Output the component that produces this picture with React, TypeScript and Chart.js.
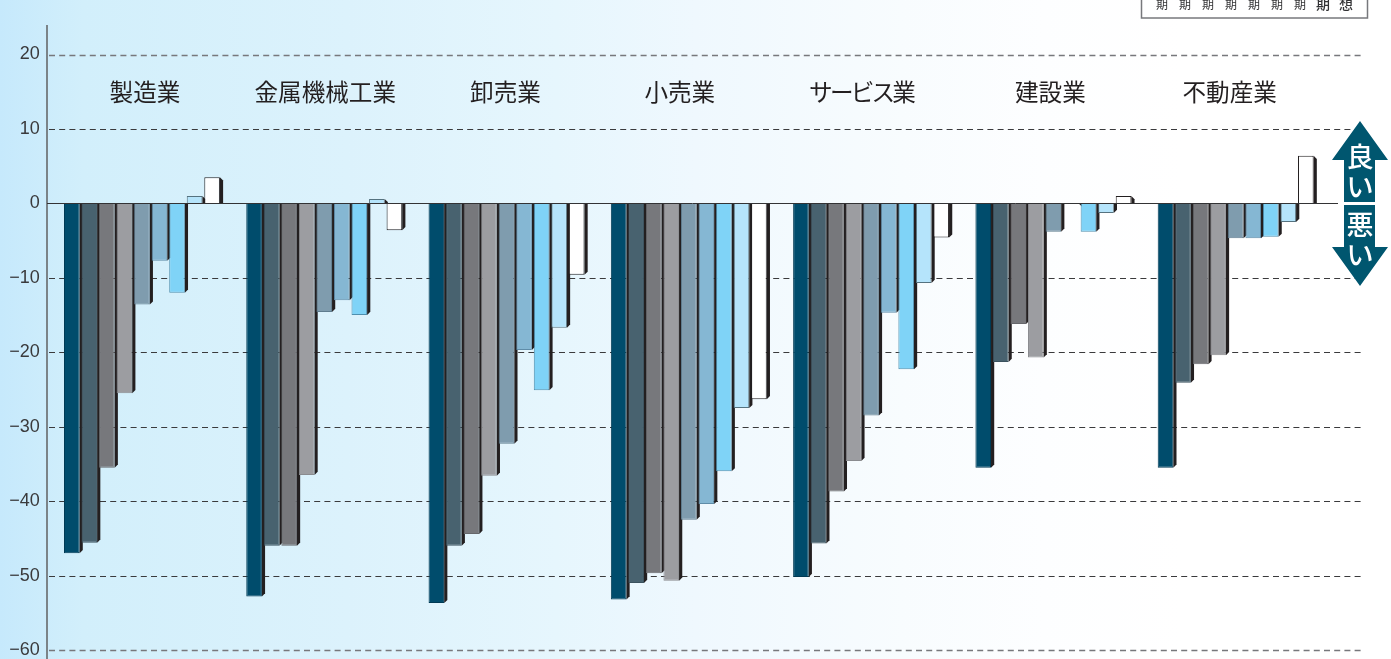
import React, { useEffect, useRef } from "react";
import { Chart, registerables } from "chart.js";

Chart.register(...registerables);

const industries = ["製造業", "金属機械工業", "卸売業", "小売業", "サービス業", "建設業", "不動産業"];

// One array per survey period, in industry order
const period1 = [-47, -52.8, -53.7, -53.2, -50.2, -35.5, -35.5];
const period2 = [-45.6, -46, -46, -51, -45.7, -21.3, -24.1];
const period3 = [-35.5, -46, -44.4, -49.7, -38.7, -16.2, -21.6];
const period4 = [-25.5, -36.5, -36.6, -50.7, -34.6, -20.7, -20.4];
const period5 = [-13.6, -14.6, -32.3, -42.5, -28.5, -3.8, -4.7];
const period6 = [-7.7, -13, -19.7, -40.4, -14.7, null, -4.7];
const period7 = [-12, -15, -25.1, -36, -22.3, -3.8, -4.5];
const period8 = [1, 0.6, -16.7, -27.5, -10.7, -1.3, -2.5];
const period9 = [3.5, -3.6, -9.6, -26.3, -4.6, 1, 6.4];

const periodTags = ["期", "期", "期", "期", "期", "期", "期", "期", "想"];
const seriesValues = [period1, period2, period3, period4, period5, period6, period7, period8, period9];

const fillColors = ["#004c6c", "#48626f", "#77787c", "#9c9da1", "#7f9cae", "#85b7d3", "#7fd3f7", "#b5e4fb", "#ffffff"];
const edgeColors = ["#003a54", "#3b525e", "#66676b", "#8a8b8f", "#5f7c8e", "#5f8ca8", "#4f8fae", "#55727f", "#231f20"];

// Horizontal correction of each industry heading relative to its bar group
const headingShift = [3, 1, -1, -9, -10, -3, -6];

const JP_FONT = '"Noto Sans CJK JP", "Noto Sans", sans-serif';
const AXIS_X = 47;
const GRID_END = 1362;
const ZERO_END = 1338;

const backdropPlugin = {
  id: "backdrop",
  beforeDatasetsDraw(chart: any) {
    const { ctx, scales } = chart;
    const y = scales.y;
    ctx.save();
    // Dashed reference lines
    for (const tick of y.ticks) {
      if (tick.value === 0) continue;
      const py = Math.round(y.getPixelForValue(tick.value)) + 0.5;
      const outer = tick.value === 20 || tick.value === -60;
      ctx.beginPath();
      ctx.setLineDash([6, 4.2]);
      ctx.lineWidth = outer ? 1.3 : 1;
      ctx.strokeStyle = outer ? "#77787c" : "#3a3a3c";
      ctx.moveTo(AXIS_X + 2, py);
      ctx.lineTo(GRID_END, py);
      ctx.stroke();
    }
    ctx.setLineDash([]);
    // Value axis rule
    ctx.beginPath();
    ctx.lineWidth = 1.5;
    ctx.strokeStyle = "#5f6062";
    ctx.moveTo(AXIS_X, 25);
    ctx.lineTo(AXIS_X, 659);
    ctx.stroke();

    // Side faces of the bars, chamfered at the free end
    ctx.fillStyle = "#231f20";
    chart.data.datasets.forEach((_: any, di: number) => {
      chart.getDatasetMeta(di).data.forEach((el: any) => {
        if (el.skip) return;
        const { x, y: tip, base, width } = el.getProps(["x", "y", "base", "width"], true);
        const right = x + width / 2;
        const depth = 3.2;
        const dir = tip > base ? -1 : 1;
        ctx.beginPath();
        ctx.moveTo(right, base);
        ctx.lineTo(right + depth, base);
        ctx.lineTo(right + depth, tip + dir * depth);
        ctx.lineTo(right, tip);
        ctx.closePath();
        ctx.fill();
      });
    });
    ctx.restore();
  },
  afterDatasetsDraw(chart: any) {
    const { ctx, scales } = chart;
    const zeroY = Math.round(scales.y.getPixelForValue(0)) + 0.5;
    ctx.save();
    ctx.beginPath();
    ctx.lineWidth = 1;
    ctx.strokeStyle = "#333335";
    ctx.moveTo(AXIS_X, zeroY);
    ctx.lineTo(ZERO_END, zeroY);
    ctx.stroke();

    // Industry headings; the katakana heading is set tighter
    ctx.fillStyle = "#231f20";
    ctx.font = `400 23.6px ${JP_FONT}`;
    ctx.textAlign = "center";
    ctx.textBaseline = "middle";
    industries.forEach((name, i) => {
      ctx.letterSpacing = name === "サービス業" ? "-2.8px" : "0px";
      ctx.fillText(name, scales.x.getPixelForValue(i) + headingShift[i], 92.5);
    });
    ctx.letterSpacing = "0px";

    // Period key, running off the top edge
    ctx.strokeStyle = "#77787c";
    ctx.lineWidth = 1.5;
    ctx.strokeRect(1141.5, -10, 226, 28);
    ctx.fillStyle = "#333335";
    periodTags.forEach((tag, i) => {
      const last = i >= 7;
      ctx.font = `${last ? 500 : 400} ${last ? 14 : 12}px ${JP_FONT}`;
      ctx.fillText(tag, 1162 + i * 23, 4);
    });

    // Good / bad direction arrows
    ctx.fillStyle = "#00566f";
    ctx.beginPath();
    [[1360, 121], [1388, 160], [1375, 160], [1375, 202], [1344, 202], [1344, 160], [1332, 160]].forEach(([x, y], i) =>
      i ? ctx.lineTo(x, y) : ctx.moveTo(x, y)
    );
    ctx.closePath();
    ctx.fill();
    ctx.beginPath();
    [[1360, 286], [1388, 247], [1375, 247], [1375, 205], [1344, 205], [1344, 247], [1332, 247]].forEach(([x, y], i) =>
      i ? ctx.lineTo(x, y) : ctx.moveTo(x, y)
    );
    ctx.closePath();
    ctx.fill();
    ctx.fillStyle = "#ffffff";
    ctx.font = `500 27px ${JP_FONT}`;
    ctx.fillText("良", 1360, 157);
    ctx.fillText("い", 1360, 187);
    ctx.fillText("悪", 1360, 225);
    ctx.fillText("い", 1360, 255);
    ctx.restore();
  },
};

export default function App() {
  const canvasRef = useRef<HTMLCanvasElement | null>(null);

  useEffect(() => {
    const chart = new Chart(canvasRef.current as HTMLCanvasElement, {
      type: "bar",
      data: {
        labels: industries,
        datasets: seriesValues.map((values, i) => ({
          label: periodTags[i],
          data: values,
          backgroundColor: fillColors[i],
          borderColor: edgeColors[i],
          borderWidth: 1,
          barPercentage: 0.89,
          categoryPercentage: 0.866,
        })),
      },
      options: {
        responsive: false,
        animation: false,
        layout: { padding: { top: 54.5, bottom: 9, right: 64.2, left: 0 } },
        plugins: { legend: { display: false }, tooltip: { enabled: false } },
        scales: {
          x: { display: false, grid: { display: false } },
          y: {
            min: -60,
            max: 20,
            afterFit(scale: any) {
              scale.width = 50.8;
              scale.paddingTop = 0;
              scale.paddingBottom = 0;
            },
            border: { display: false },
            grid: { display: false },
            ticks: {
              stepSize: 10,
              padding: 3,
              color: "#3a3a3c",
              font: { family: '"Liberation Sans", Arial, sans-serif', size: 18 },
              callback: (v: any) => String(v).replace("-", "\u2212"),
            },
          },
        },
      },
      plugins: [backdropPlugin],
    } as any);
    return () => chart.destroy();
  }, []);

  return (
    <div
      style={{
        position: "absolute",
        left: 0,
        top: 0,
        width: 1391,
        height: 659,
        overflow: "hidden",
        background:
          "linear-gradient(90deg, #c6e9fc 0%, #d2effb 6%, #dcf2fc 25%, #e6f6fd 40%, #eff8fe 50%, #f8fcfe 65%, #fdfeff 75%, #ffffff 85%)",
      }}
    >
      <canvas ref={canvasRef} width={1391} height={659} style={{ display: "block" }} />
    </div>
  );
}
